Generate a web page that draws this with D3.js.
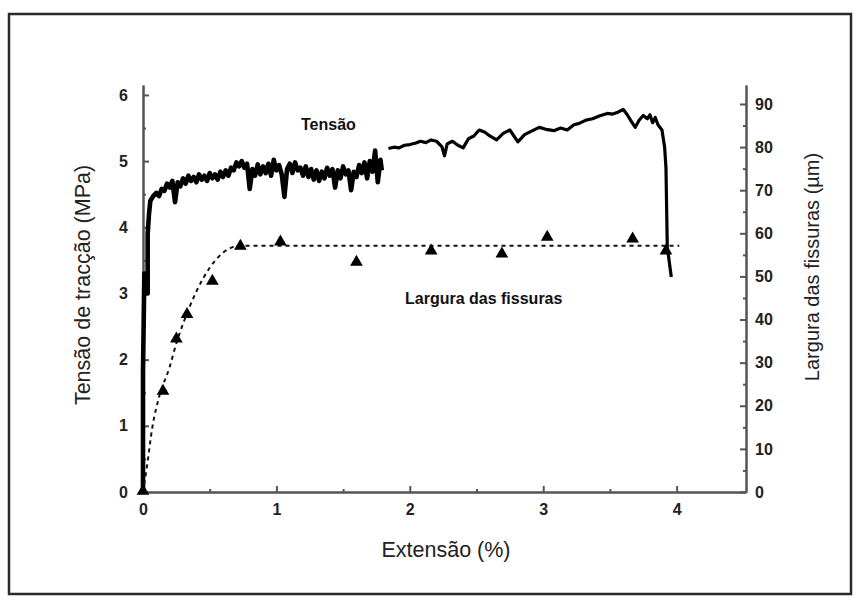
<!DOCTYPE html>
<html>
<head>
<meta charset="utf-8">
<script src="https://cdn.jsdelivr.net/npm/d3@7"></script>
<style>
  body { margin: 0; background: #fff; }
  svg { display: block; font-family: "Liberation Sans", Arial, sans-serif; }
  .tick text { font-size: 16px; font-weight: bold; fill: #222; }
  .domain, .tick line { stroke: #555; stroke-width: 2; }
</style>
</head>
<body>
<div id="chart"></div>
<script>
// Tensão (MPa) vs Extensão (%)
const stressX = [0, 0, 0.01, 0.035, 0.035, 0.045, 0.055,
  0.08, 0.10, 0.12, 0.14, 0.16, 0.18, 0.20, 0.22, 0.24, 0.26, 0.28, 0.30, 0.32, 0.34, 0.36, 0.38,
  0.40, 0.42, 0.44, 0.46, 0.48, 0.50, 0.52, 0.54, 0.56, 0.58, 0.60, 0.62, 0.64, 0.66, 0.68, 0.70,
  0.72, 0.74, 0.76, 0.78, 0.80, 0.82, 0.84, 0.86, 0.88, 0.90, 0.92, 0.94, 0.96, 0.98, 1.00, 1.02,
  1.04, 1.06, 1.08, 1.10, 1.12, 1.14, 1.16, 1.18, 1.20, 1.22, 1.24, 1.26, 1.28, 1.30, 1.32, 1.34,
  1.36, 1.38, 1.40, 1.42, 1.44, 1.46, 1.48, 1.50, 1.52, 1.54, 1.56, 1.58, 1.60, 1.62, 1.64, 1.66,
  1.68, 1.70, 1.72, 1.74, 1.76, 1.78, 1.79];
const stressY = [0, 1.8, 3.3, 3.0, 3.9, 4.2, 4.4,
  4.48, 4.52, 4.47, 4.58, 4.55, 4.66, 4.60, 4.70, 4.38, 4.68, 4.62, 4.74, 4.66, 4.78, 4.70, 4.76,
  4.68, 4.80, 4.72, 4.78, 4.70, 4.82, 4.74, 4.80, 4.72, 4.84, 4.76, 4.86, 4.78, 4.90, 4.86, 4.98,
  4.92, 5.00, 4.90, 4.96, 4.58, 4.88, 4.78, 4.95, 4.80, 4.92, 4.82, 4.96, 4.78, 5.02, 4.86, 4.94,
  4.80, 4.46, 4.88, 4.96, 4.82, 4.98, 4.86, 4.90, 4.78, 4.92, 4.76, 4.88, 4.72, 4.86, 4.70, 4.84,
  4.74, 4.90, 4.78, 4.88, 4.60, 4.86, 4.74, 4.92, 4.80, 4.86, 4.56, 4.84, 4.76, 4.94, 4.82, 4.98,
  4.74, 5.00, 4.84, 5.16, 4.68, 5.02, 4.86];
// second stretch after the small gap near 1.8 %
const stressX2 = [1.84, 1.88, 1.92, 1.96, 2.00, 2.04, 2.08, 2.12, 2.16, 2.20, 2.24, 2.26, 2.28, 2.32,
  2.36, 2.40, 2.44, 2.48, 2.52, 2.56, 2.60, 2.65, 2.70, 2.75, 2.81, 2.86, 2.92, 2.97, 3.02, 3.08,
  3.13, 3.18, 3.23, 3.27, 3.32, 3.37, 3.42, 3.48, 3.52, 3.56, 3.60, 3.63, 3.66, 3.69, 3.72, 3.75,
  3.78, 3.80, 3.82, 3.84, 3.86, 3.89, 3.91, 3.92, 3.93, 3.94, 3.95, 3.96];
const stressY2 = [5.19, 5.21, 5.20, 5.24, 5.25, 5.27, 5.30, 5.28, 5.32, 5.30, 5.22, 5.08, 5.26, 5.30,
  5.24, 5.20, 5.34, 5.38, 5.47, 5.44, 5.38, 5.32, 5.42, 5.47, 5.29, 5.40, 5.46, 5.51, 5.48, 5.46,
  5.50, 5.47, 5.55, 5.57, 5.62, 5.64, 5.68, 5.72, 5.71, 5.74, 5.78, 5.70, 5.60, 5.51, 5.62, 5.69,
  5.64, 5.70, 5.58, 5.66, 5.55, 5.47, 5.21, 4.90, 3.70, 3.55, 3.40, 3.25];

// Largura das fissuras (µm): measured points and the dotted trend
const crackX = [0, 0.15, 0.25, 0.33, 0.52, 0.73, 1.03, 1.60, 2.16, 2.69, 3.03, 3.67, 3.92];
const crackY = [0, 23.2, 35.3, 41.0, 48.7, 56.8, 57.8, 53.1, 55.7, 55.0, 58.9, 58.5, 55.7];
const trendX = [0, 0.03, 0.07, 0.12, 0.2, 0.25, 0.3, 0.35, 0.4, 0.45, 0.5, 0.55, 0.6, 0.65, 0.7, 0.8, 4.02];
const trendY = [0, 6, 15, 22, 29, 34.5, 39, 43, 46.5, 49.5, 52, 54, 55.5, 56.5, 57, 57.1, 57.1];

const xTicks = [0, 1, 2, 3, 4];
const leftTicks = [0, 1, 2, 3, 4, 5, 6];
const rightTicks = [0, 10, 20, 30, 40, 50, 60, 70, 80, 90];

const width = 864, height = 607;
const plot = { left: 143, right: 746, top: 85, bottom: 492 };

const svg = d3.select("#chart").append("svg")
    .attr("width", width)
    .attr("height", height);

// frame round the figure
svg.append("rect")
    .attr("x", 9).attr("y", 14)
    .attr("width", 842).attr("height", 580)
    .attr("fill", "none")
    .attr("stroke", "#2a2a2a")
    .attr("stroke-width", 2.5);

const x = d3.scaleLinear().domain([0, 4.52]).range([plot.left, plot.right]);
const yL = d3.scaleLinear().domain([0, 6.15]).range([plot.bottom, plot.top]);
const yR = d3.scaleLinear().domain([0, 94.4]).range([plot.bottom, plot.top]);

// minor ticks first, then major axes on top
svg.append("g")
    .attr("transform", `translate(0,${plot.bottom})`)
    .call(d3.axisBottom(x).tickValues([0.5, 1.5, 2.5, 3.5]).tickSizeInner(-3).tickSizeOuter(0).tickFormat(""));
svg.append("g")
    .attr("transform", `translate(${plot.left},0)`)
    .call(d3.axisLeft(yL).tickValues([0.5, 1.5, 2.5, 3.5, 4.5, 5.5]).tickSizeInner(-3).tickSizeOuter(0).tickFormat(""));
svg.append("g")
    .attr("transform", `translate(${plot.right},0)`)
    .call(d3.axisRight(yR).tickValues([5, 15, 25, 35, 45, 55, 65, 75, 85]).tickSizeInner(-3).tickSizeOuter(0).tickFormat(""));

svg.append("g")
    .attr("transform", `translate(0,${plot.bottom})`)
    .call(d3.axisBottom(x).tickValues(xTicks).tickSizeInner(-6).tickSizeOuter(0).tickPadding(12).tickFormat(d3.format("d")));
svg.append("g")
    .attr("transform", `translate(${plot.left},0)`)
    .call(d3.axisLeft(yL).tickValues(leftTicks).tickSizeInner(-6).tickSizeOuter(0).tickPadding(15).tickFormat(d3.format("d")));
svg.append("g")
    .attr("transform", `translate(${plot.right},0)`)
    .call(d3.axisRight(yR).tickValues(rightTicks).tickSizeInner(-6).tickSizeOuter(0).tickPadding(9).tickFormat(d3.format("d")));

// stress curve: noisy first stretch drawn heavier
const line = d3.line().x(d => x(d[0])).y(d => yL(d[1]));
const seg1 = stressX.map((v, i) => [v, stressY[i]]);
const seg2 = stressX2.map((v, i) => [v, stressY2[i]]);
[[seg1, 4.6], [seg2, 3.2]].forEach(([seg, w]) => {
    svg.append("path")
        .attr("d", line(seg))
        .attr("fill", "none")
        .attr("stroke", "#000")
        .attr("stroke-width", w)
        .attr("stroke-linejoin", "round");
});

// crack width trend (dotted) + triangles
const lineR = d3.line().x(d => x(d[0])).y(d => yR(d[1])).curve(d3.curveMonotoneX);
svg.append("path")
    .attr("d", lineR(trendX.map((v, i) => [v, trendY[i]])))
    .attr("fill", "none")
    .attr("stroke", "#111")
    .attr("stroke-width", 2)
    .attr("stroke-dasharray", "4,4");

svg.selectAll(".tri")
    .data(crackX.map((v, i) => [v, crackY[i]]))
    .enter().append("path")
    .attr("class", "tri")
    .attr("d", d3.symbol().type(d3.symbolTriangle).size(70))
    .attr("transform", d => `translate(${x(d[0])},${yR(d[1]) - 1})`)
    .attr("fill", "#000");

// annotations
svg.append("text")
    .attr("x", 301).attr("y", 130)
    .style("font-size", "16px").style("font-weight", "bold").attr("fill", "#111")
    .text("Tensão");
svg.append("text")
    .attr("x", 405).attr("y", 304)
    .style("font-size", "16px").style("font-weight", "bold").attr("fill", "#111")
    .text("Largura das fissuras");

// axis titles
svg.append("text")
    .attr("x", 446).attr("y", 557)
    .attr("text-anchor", "middle")
    .style("font-size", "21.5px").attr("fill", "#222")
    .text("Extensão (%)");
svg.append("text")
    .attr("transform", `translate(90,285) rotate(-90)`)
    .attr("text-anchor", "middle")
    .style("font-size", "21.5px").attr("fill", "#222")
    .text("Tensão de tracção (MPa)");
svg.append("text")
    .attr("transform", `translate(819,267) rotate(-90)`)
    .attr("text-anchor", "middle")
    .style("font-size", "20px").attr("fill", "#222")
    .text("Largura das fissuras (µm)");
</script>
</body>
</html>
